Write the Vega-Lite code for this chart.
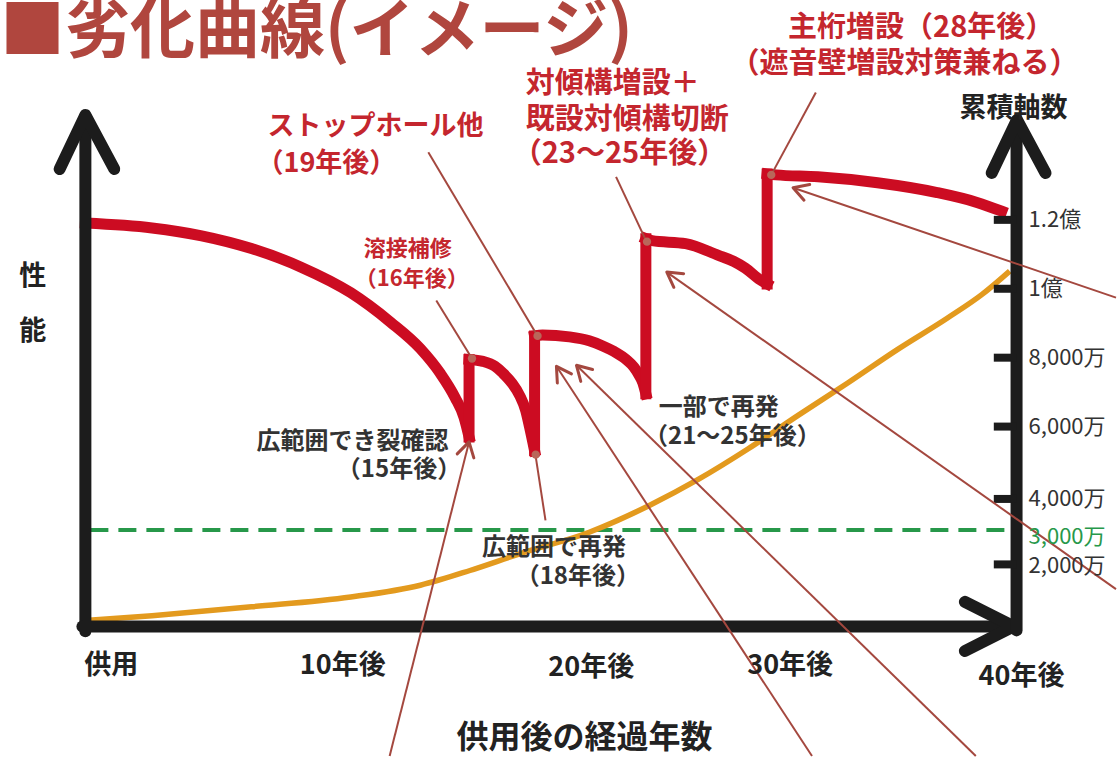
{
  "$schema": "https://vega.github.io/schema/vega-lite/v6.json",
  "width": 1120,
  "height": 760,
  "padding": 0,
  "autosize": {"type": "fit", "contains": "padding"},
  "background": "white",
  "config": {"view": {"stroke": null}, "text": {"font": "Noto Sans CJK JP"}},
  "datasets": {
    "redcurve": [
      {"seg": 1, "i": 1, "x": -1.14, "y": 11909}, {"seg": 1, "i": 2, "x": 1.79, "y": 11766}, {"seg": 1, "i": 3, "x": 3.97, "y": 11538},
      {"seg": 1, "i": 4, "x": 6.16, "y": 11168}, {"seg": 1, "i": 5, "x": 8.34, "y": 10627}, {"seg": 1, "i": 6, "x": 10.52, "y": 9886},
      {"seg": 1, "i": 7, "x": 12.27, "y": 9031}, {"seg": 1, "i": 8, "x": 13.58, "y": 8262}, {"seg": 1, "i": 9, "x": 14.45, "y": 7550},
      {"seg": 1, "i": 10, "x": 15.11, "y": 6838}, {"seg": 1, "i": 11, "x": 15.5, "y": 6268}, {"seg": 1, "i": 12, "x": 15.72, "y": 5698},
      {"seg": 2, "i": 1, "x": 15.72, "y": 7949}, {"seg": 2, "i": 2, "x": 16.33, "y": 7892}, {"seg": 2, "i": 3, "x": 16.86, "y": 7749},
      {"seg": 2, "i": 4, "x": 17.21, "y": 7550}, {"seg": 2, "i": 5, "x": 17.6, "y": 7265}, {"seg": 2, "i": 6, "x": 17.95, "y": 6895},
      {"seg": 2, "i": 7, "x": 18.21, "y": 6467}, {"seg": 2, "i": 8, "x": 18.38, "y": 5983}, {"seg": 2, "i": 9, "x": 18.6, "y": 5299},
      {"seg": 3, "i": 1, "x": 18.6, "y": 8632}, {"seg": 3, "i": 2, "x": 18.95, "y": 8661}, {"seg": 3, "i": 3, "x": 20.13, "y": 8604},
      {"seg": 3, "i": 4, "x": 21.0, "y": 8490}, {"seg": 3, "i": 5, "x": 21.57, "y": 8348}, {"seg": 3, "i": 6, "x": 22.1, "y": 8177},
      {"seg": 3, "i": 7, "x": 22.62, "y": 7949}, {"seg": 3, "i": 8, "x": 22.97, "y": 7721}, {"seg": 3, "i": 9, "x": 23.19, "y": 7493},
      {"seg": 3, "i": 10, "x": 23.36, "y": 7265}, {"seg": 3, "i": 11, "x": 23.49, "y": 6952},
      {"seg": 4, "i": 1, "x": 23.49, "y": 11453}, {"seg": 4, "i": 2, "x": 23.76, "y": 11396}, {"seg": 4, "i": 3, "x": 25.24, "y": 11311},
      {"seg": 4, "i": 4, "x": 26.68, "y": 10969}, {"seg": 4, "i": 5, "x": 27.34, "y": 10798}, {"seg": 4, "i": 6, "x": 27.86, "y": 10598},
      {"seg": 4, "i": 7, "x": 28.52, "y": 10256}, {"seg": 4, "i": 8, "x": 28.82, "y": 10142},
      {"seg": 5, "i": 1, "x": 28.82, "y": 13333}, {"seg": 5, "i": 2, "x": 29.21, "y": 13305}, {"seg": 5, "i": 3, "x": 31.05, "y": 13248},
      {"seg": 5, "i": 4, "x": 33.67, "y": 13077}, {"seg": 5, "i": 5, "x": 36.29, "y": 12792}, {"seg": 5, "i": 6, "x": 38.04, "y": 12507},
      {"seg": 5, "i": 7, "x": 39.13, "y": 12251}
    ],
    "redjump": [
      {"x": 15.72, "y": 5698, "y2": 7949},
      {"x": 18.6, "y": 5299, "y2": 8632},
      {"x": 23.49, "y": 6952, "y2": 11453},
      {"x": 28.82, "y": 10142, "y2": 13333}
    ],
    "orange": [
      {"i": 1, "x": -1.14, "y": 370}, {"i": 2, "x": 1.79, "y": 513}, {"i": 3, "x": 6.16, "y": 769},
      {"i": 4, "x": 10.52, "y": 1054}, {"i": 5, "x": 13.58, "y": 1396}, {"i": 6, "x": 15.76, "y": 1823},
      {"i": 7, "x": 17.95, "y": 2308}, {"i": 8, "x": 21.0, "y": 2934}, {"i": 9, "x": 23.62, "y": 3704},
      {"i": 10, "x": 25.81, "y": 4473}, {"i": 11, "x": 27.99, "y": 5356}, {"i": 12, "x": 30.18, "y": 6325},
      {"i": 13, "x": 32.36, "y": 7265}, {"i": 14, "x": 34.54, "y": 8234}, {"i": 15, "x": 36.73, "y": 9145},
      {"i": 16, "x": 38.25, "y": 9829}, {"i": 17, "x": 39.48, "y": 10513}
    ],
    "green": [{"x": -0.92, "x2": 39.56, "y": 3000}],
    "axes": [
      {"id": "left", "i": 1, "x": -1.14, "y": 57}, {"id": "left", "i": 2, "x": -1.14, "y": 15014},
      {"id": "lhead", "i": 1, "x": -2.27, "y": 13476}, {"id": "lhead", "i": 2, "x": -1.14, "y": 15043}, {"id": "lhead", "i": 3, "x": 0.13, "y": 13476},
      {"id": "bottom", "i": 1, "x": -1.27, "y": 199}, {"id": "bottom", "i": 2, "x": 39.56, "y": 199},
      {"id": "bhead", "i": 1, "x": 37.51, "y": 912}, {"id": "bhead", "i": 2, "x": 39.65, "y": 199}, {"id": "bhead", "i": 3, "x": 37.51, "y": -513},
      {"id": "right", "i": 1, "x": 39.78, "y": 85}, {"id": "right", "i": 2, "x": 39.78, "y": 14872},
      {"id": "rhead", "i": 1, "x": 38.69, "y": 13362}, {"id": "rhead", "i": 2, "x": 39.8, "y": 14900}, {"id": "rhead", "i": 3, "x": 41.05, "y": 13362}
    ],
    "ticks": [
      {"x": 38.78, "x2": 39.78, "y": 12000}, {"x": 38.78, "x2": 39.78, "y": 10000},
      {"x": 38.78, "x2": 39.78, "y": 8000}, {"x": 38.78, "x2": 39.78, "y": 6000},
      {"x": 38.78, "x2": 39.78, "y": 3900}, {"x": 38.78, "x2": 39.78, "y": 2000}
    ],
    "leaders": [
      {"id": "weld", "i": 1, "x": 14.28, "y": 9658}, {"id": "weld", "i": 2, "x": 15.85, "y": 7977},
      {"id": "stop", "i": 1, "x": 13.93, "y": 13960}, {"id": "stop", "i": 2, "x": 18.73, "y": 8632},
      {"id": "brace", "i": 1, "x": 22.18, "y": 13248}, {"id": "brace", "i": 2, "x": 23.54, "y": 11339},
      {"id": "girder", "i": 1, "x": 30.96, "y": 15698}, {"id": "girder", "i": 2, "x": 29.0, "y": 13305},
      {"id": "crack", "i": 1, "x": 12.23, "y": -3561}, {"id": "crack", "i": 2, "x": 15.72, "y": 5556},
      {"id": "recur", "i": 1, "x": 19.08, "y": 3276}, {"id": "recur", "i": 2, "x": 18.65, "y": 5128},
      {"id": "l2", "i": 1, "x": 30.79, "y": -3561}, {"id": "l2", "i": 2, "x": 19.56, "y": 7749},
      {"id": "l3", "i": 1, "x": 37.99, "y": -3561}, {"id": "l3", "i": 2, "x": 20.44, "y": 7778},
      {"id": "la", "i": 1, "x": 44.15, "y": 9744}, {"id": "la", "i": 2, "x": 29.96, "y": 12934},
      {"id": "lb", "i": 1, "x": 44.15, "y": 1282}, {"id": "lb", "i": 2, "x": 24.41, "y": 10484}
    ],
    "heads": [
      {"id": "h1", "i": 1, "x": 15.2, "y": 5208}, {"id": "h1", "i": 2, "x": 15.72, "y": 5556}, {"id": "h1", "i": 3, "x": 15.93, "y": 5091},
      {"id": "h2", "i": 1, "x": 19.6, "y": 7265}, {"id": "h2", "i": 2, "x": 19.56, "y": 7749}, {"id": "h2", "i": 3, "x": 20.22, "y": 7530},
      {"id": "h3", "i": 1, "x": 20.63, "y": 7311}, {"id": "h3", "i": 2, "x": 20.44, "y": 7778}, {"id": "h3", "i": 3, "x": 21.15, "y": 7655},
      {"id": "h4", "i": 1, "x": 30.44, "y": 12570}, {"id": "h4", "i": 2, "x": 29.96, "y": 12934}, {"id": "h4", "i": 3, "x": 30.69, "y": 13026},
      {"id": "h5", "i": 1, "x": 24.72, "y": 10043}, {"id": "h5", "i": 2, "x": 24.41, "y": 10484}, {"id": "h5", "i": 3, "x": 25.15, "y": 10439}
    ],
    "dots": [
      {"x": 15.85, "y": 7977}, {"x": 18.73, "y": 8632}, {"x": 23.54, "y": 11368},
      {"x": 29.0, "y": 13305}, {"x": 18.65, "y": 5185}
    ]
  },
  "encoding": {
    "x": {"field": "x", "type": "quantitative", "axis": null, "scale": {"domain": [-4.76, 44.15], "nice": false, "zero": false}},
    "y": {"field": "y", "type": "quantitative", "axis": null, "scale": {"domain": [-3561, 18091], "nice": false, "zero": false}}
  },
  "layer": [
    {"data": {"name": "green"}, "mark": {"type": "rule", "color": "#27984a", "strokeWidth": 4, "strokeDash": [18, 10]}, "encoding": {"x2": {"field": "x2"}}},
    {"data": {"name": "orange"}, "mark": {"type": "line", "color": "#e39a1e", "strokeWidth": 5.5, "interpolate": "monotone"}, "encoding": {"order": {"field": "i"}}},
    {"data": {"name": "redcurve"}, "mark": {"type": "line", "color": "#cc0c22", "strokeWidth": 11, "strokeCap": "square", "interpolate": "monotone"}, "encoding": {"detail": {"field": "seg"}, "order": {"field": "i"}}},
    {"data": {"name": "redjump"}, "mark": {"type": "rule", "color": "#cc0c22", "strokeWidth": 11, "strokeCap": "square"}, "encoding": {"y2": {"field": "y2"}}},
    {"data": {"name": "axes"}, "mark": {"type": "line", "color": "#1c1c1c", "strokeWidth": 12, "strokeCap": "round", "strokeJoin": "round"}, "encoding": {"detail": {"field": "id"}, "order": {"field": "i"}}},
    {"data": {"name": "ticks"}, "mark": {"type": "rule", "color": "#1c1c1c", "strokeWidth": 8}, "encoding": {"x2": {"field": "x2"}}},
    {"data": {"name": "leaders"}, "mark": {"type": "line", "color": "#a4483f", "strokeWidth": 2}, "encoding": {"detail": {"field": "id"}, "order": {"field": "i"}}},
    {"data": {"name": "heads"}, "mark": {"type": "line", "color": "#a4483f", "strokeWidth": 3, "strokeCap": "round", "strokeJoin": "round"}, "encoding": {"detail": {"field": "id"}, "order": {"field": "i"}}},
    {"data": {"name": "dots"}, "mark": {"type": "point", "shape": "circle", "filled": true, "size": 70, "color": "#b9675a", "opacity": 1}},
    {"data": {"values": [{"x": -4.89, "y": 17464, "t": "■劣化曲線(イメージ)"}]}, "mark": {"type": "text", "align": "left", "baseline": "middle", "fontSize": 65, "fontWeight": "bold", "color": "#b0463e"}, "encoding": {"text": {"field": "t"}}},
    {"data": {"values": [
      {"x": 6.86, "y": 14701, "t": "ストップホール他"},
      {"x": 6.38, "y": 13618, "t": "（19年後）"}
    ]}, "mark": {"type": "text", "align": "left", "baseline": "middle", "fontSize": 27, "fontWeight": "bold", "color": "#c4262e"}, "encoding": {"text": {"field": "t"}}},
    {"data": {"values": [
      {"x": 18.21, "y": 15954, "t": "対傾構増設＋"},
      {"x": 18.21, "y": 14900, "t": "既設対傾構切断"},
      {"x": 17.64, "y": 13903, "t": "（23～25年後）"},
      {"x": 29.74, "y": 17578, "t": "主桁増設（28年後）"},
      {"x": 27.21, "y": 16524, "t": "（遮音壁増設対策兼ねる）"}
    ]}, "mark": {"type": "text", "align": "left", "baseline": "middle", "fontSize": 29, "fontWeight": "bold", "color": "#c4262e"}, "encoding": {"text": {"field": "t"}}},
    {"data": {"values": [
      {"x": 11.09, "y": 11168, "t": "溶接補修"},
      {"x": 10.7, "y": 10285, "t": "（16年後）"}
    ]}, "mark": {"type": "text", "align": "left", "baseline": "middle", "fontSize": 22, "fontWeight": "bold", "color": "#c4262e"}, "encoding": {"text": {"field": "t"}}},
    {"data": {"values": [
      {"x": 6.38, "y": 5556, "t": "広範囲でき裂確認"},
      {"x": 9.91, "y": 4729, "t": "（15年後）"},
      {"x": 16.29, "y": 2479, "t": "広範囲で再発"},
      {"x": 17.77, "y": 1624, "t": "（18年後）"},
      {"x": 24.06, "y": 6553, "t": "一部で再発"},
      {"x": 23.41, "y": 5698, "t": "（21～25年後）"}
    ]}, "mark": {"type": "text", "align": "left", "baseline": "middle", "fontSize": 24, "fontWeight": "bold", "color": "#333333"}, "encoding": {"text": {"field": "t"}}},
    {"data": {"values": [
      {"x": 0, "y": -940, "t": "供用"},
      {"x": 10.17, "y": -940, "t": "10年後"},
      {"x": 21.09, "y": -997, "t": "20年後"},
      {"x": 29.83, "y": -940, "t": "30年後"},
      {"x": 40.0, "y": -1282, "t": "40年後"},
      {"x": -3.45, "y": 10342, "t": "性"},
      {"x": -3.45, "y": 8746, "t": "能"},
      {"x": 39.65, "y": 15214, "t": "累積軸数"}
    ]}, "mark": {"type": "text", "align": "center", "baseline": "middle", "fontSize": 27, "fontWeight": "bold", "color": "#222222"}, "encoding": {"text": {"field": "t"}}},
    {"data": {"values": [{"x": 20.79, "y": -3048, "t": "供用後の経過年数"}]}, "mark": {"type": "text", "align": "center", "baseline": "middle", "fontSize": 32, "fontWeight": "bold", "color": "#222222"}, "encoding": {"text": {"field": "t"}}},
    {"data": {"values": [
      {"x": 40.31, "y": 12000, "t": "1.2億"},
      {"x": 40.31, "y": 10000, "t": "1億"},
      {"x": 40.31, "y": 8000, "t": "8,000万"},
      {"x": 40.31, "y": 6000, "t": "6,000万"},
      {"x": 40.31, "y": 3900, "t": "4,000万"},
      {"x": 40.31, "y": 1950, "t": "2,000万"}
    ]}, "mark": {"type": "text", "align": "left", "baseline": "middle", "fontSize": 22, "color": "#333333"}, "encoding": {"text": {"field": "t"}}},
    {"data": {"values": [{"x": 40.31, "y": 2800, "t": "3,000万"}]}, "mark": {"type": "text", "align": "left", "baseline": "middle", "fontSize": 22, "color": "#27984a"}, "encoding": {"text": {"field": "t"}}}
  ]
}
